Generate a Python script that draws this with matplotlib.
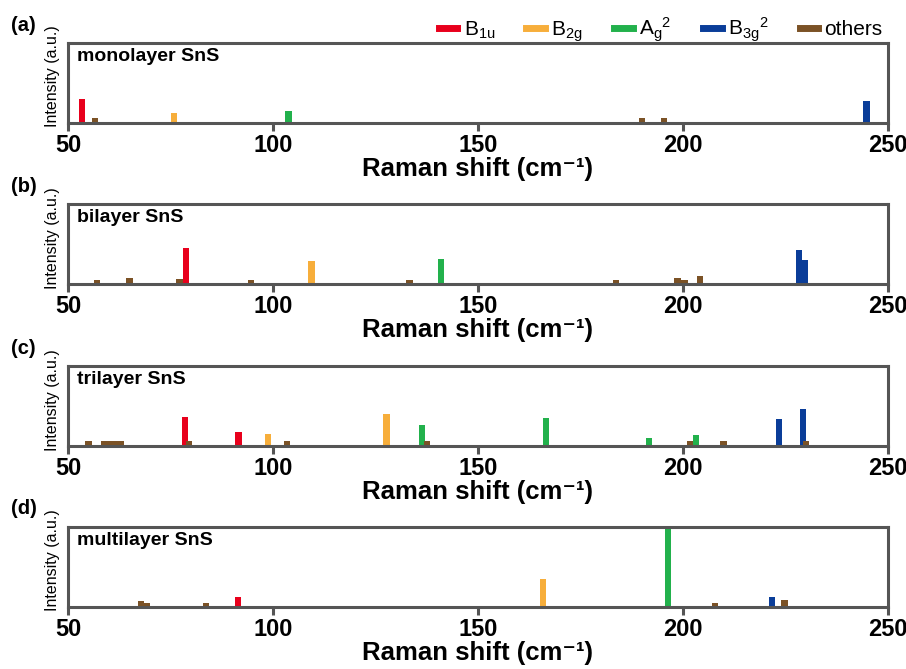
import matplotlib.pyplot as plt
from matplotlib.lines import Line2D

plt.rcParams.update({
    "font.family": ["Liberation Sans", "DejaVu Sans"],
    "mathtext.fontset": "custom",
    "mathtext.rm": "Liberation Sans",
    "mathtext.it": "Liberation Sans",
    "mathtext.bf": "Liberation Sans:bold",
})

# mode colours
modes = ["B1u", "B2g", "Ag2", "B3g2", "others"]
mode_colors = {"B1u": "#e8001c", "B2g": "#f7ae3b", "Ag2": "#22b14c",
               "B3g2": "#0a3d99", "others": "#7b5226"}
legend_labels = [r"B$_{1u}$", r"B$_{2g}$", r"A$_{g}$$^{2}$", r"B$_{3g}$$^{2}$", "others"]

# peak positions (cm-1), normalised intensity, mode
mono_pos = [53.4, 56.7, 75.9, 103.8, 190.0, 195.3, 244.8]
mono_int = [0.30, 0.06, 0.125, 0.15, 0.06, 0.06, 0.27]
mono_mode = ["B1u", "others", "B2g", "Ag2", "others", "others", "B3g2"]

bi_pos = [57.1, 65.0, 77.2, 78.7, 94.7, 109.4, 133.3, 141.0, 183.7, 198.7, 200.4, 204.2, 228.3, 229.8]
bi_int = [0.06, 0.075, 0.065, 0.45, 0.06, 0.295, 0.06, 0.31, 0.06, 0.085, 0.055, 0.10, 0.43, 0.30]
bi_mode = ["others", "others", "others", "B1u", "others", "B2g", "others", "Ag2",
           "others", "others", "others", "others", "B3g2", "B3g2"]

tri_pos = [55.0, 58.7, 60.2, 61.7, 63.0, 78.6, 79.5, 91.6, 98.9, 103.4, 127.7, 136.3, 137.6,
           166.6, 191.8, 201.8, 203.2, 209.9, 223.5, 229.3, 230.1]
tri_int = [0.06, 0.06, 0.06, 0.06, 0.06, 0.37, 0.06, 0.18, 0.15, 0.06, 0.40, 0.27, 0.06,
           0.35, 0.10, 0.06, 0.135, 0.06, 0.34, 0.46, 0.07]
tri_mode = ["others", "others", "others", "others", "others", "B1u", "others", "B1u", "B2g",
            "others", "B2g", "Ag2", "others", "Ag2", "Ag2", "others", "Ag2", "others",
            "B3g2", "B3g2", "others"]

multi_pos = [67.9, 69.2, 83.7, 91.5, 165.9, 196.3, 207.9, 221.8, 224.8]
multi_int = [0.07, 0.05, 0.05, 0.12, 0.35, 1.0, 0.05, 0.12, 0.09]
multi_mode = ["others", "others", "others", "B1u", "B2g", "Ag2", "others", "B3g2", "others"]

panels = [
    ("(a)", "monolayer SnS", mono_pos, mono_int, mono_mode),
    ("(b)", "bilayer SnS", bi_pos, bi_int, bi_mode),
    ("(c)", "trilayer SnS", tri_pos, tri_int, tri_mode),
    ("(d)", "multilayer SnS", multi_pos, multi_int, multi_mode),
]

fig = plt.figure(figsize=(9.06, 6.69), dpi=100)
bottoms = [0.816, 0.575, 0.333, 0.093]
spine_col = "#555555"

for (tag, name, pos, inten, mode), b in zip(panels, bottoms):
    ax = fig.add_axes([0.075, b, 0.905, 0.12])
    cols = [mode_colors[m] for m in mode]
    ax.bar(pos, inten, width=1.5, color=cols, zorder=2)
    ax.set_xlim(50, 250)
    ax.set_ylim(0, 1)
    ax.set_xticks([50, 100, 150, 200, 250])
    ax.set_yticks([])
    ax.tick_params(axis="x", length=6, width=2.2, color=spine_col, pad=2, labelsize=17)
    for lab in ax.get_xticklabels():
        lab.set_fontweight("bold")
    for s in ax.spines.values():
        s.set_color(spine_col)
        s.set_linewidth(2.2)
    ax.set_xlabel("Raman shift (cm\u207b\u00b9)", fontsize=18.5, fontweight="bold", labelpad=0)
    ax.set_ylabel("Intensity (a.u.)", fontsize=11.5)
    ax.yaxis.set_label_coords(-0.01, 0.58)
    ax.text(0.011, 0.83, name, transform=ax.transAxes, fontsize=14, fontweight="bold",
            va="center", ha="left")
    ax.text(-0.07, 1.22, tag, transform=ax.transAxes, fontsize=14.5, fontweight="bold",
            va="center", ha="left")

handles = [Line2D([0], [0], color=mode_colors[m], lw=5) for m in modes]
fig.legend(handles, legend_labels, loc="upper right", bbox_to_anchor=(0.995, 1.005), ncol=5,
           frameon=False, fontsize=15, handlelength=0.9, handletextpad=0.3, columnspacing=1.5)

fig.savefig("out.png", dpi=100)
